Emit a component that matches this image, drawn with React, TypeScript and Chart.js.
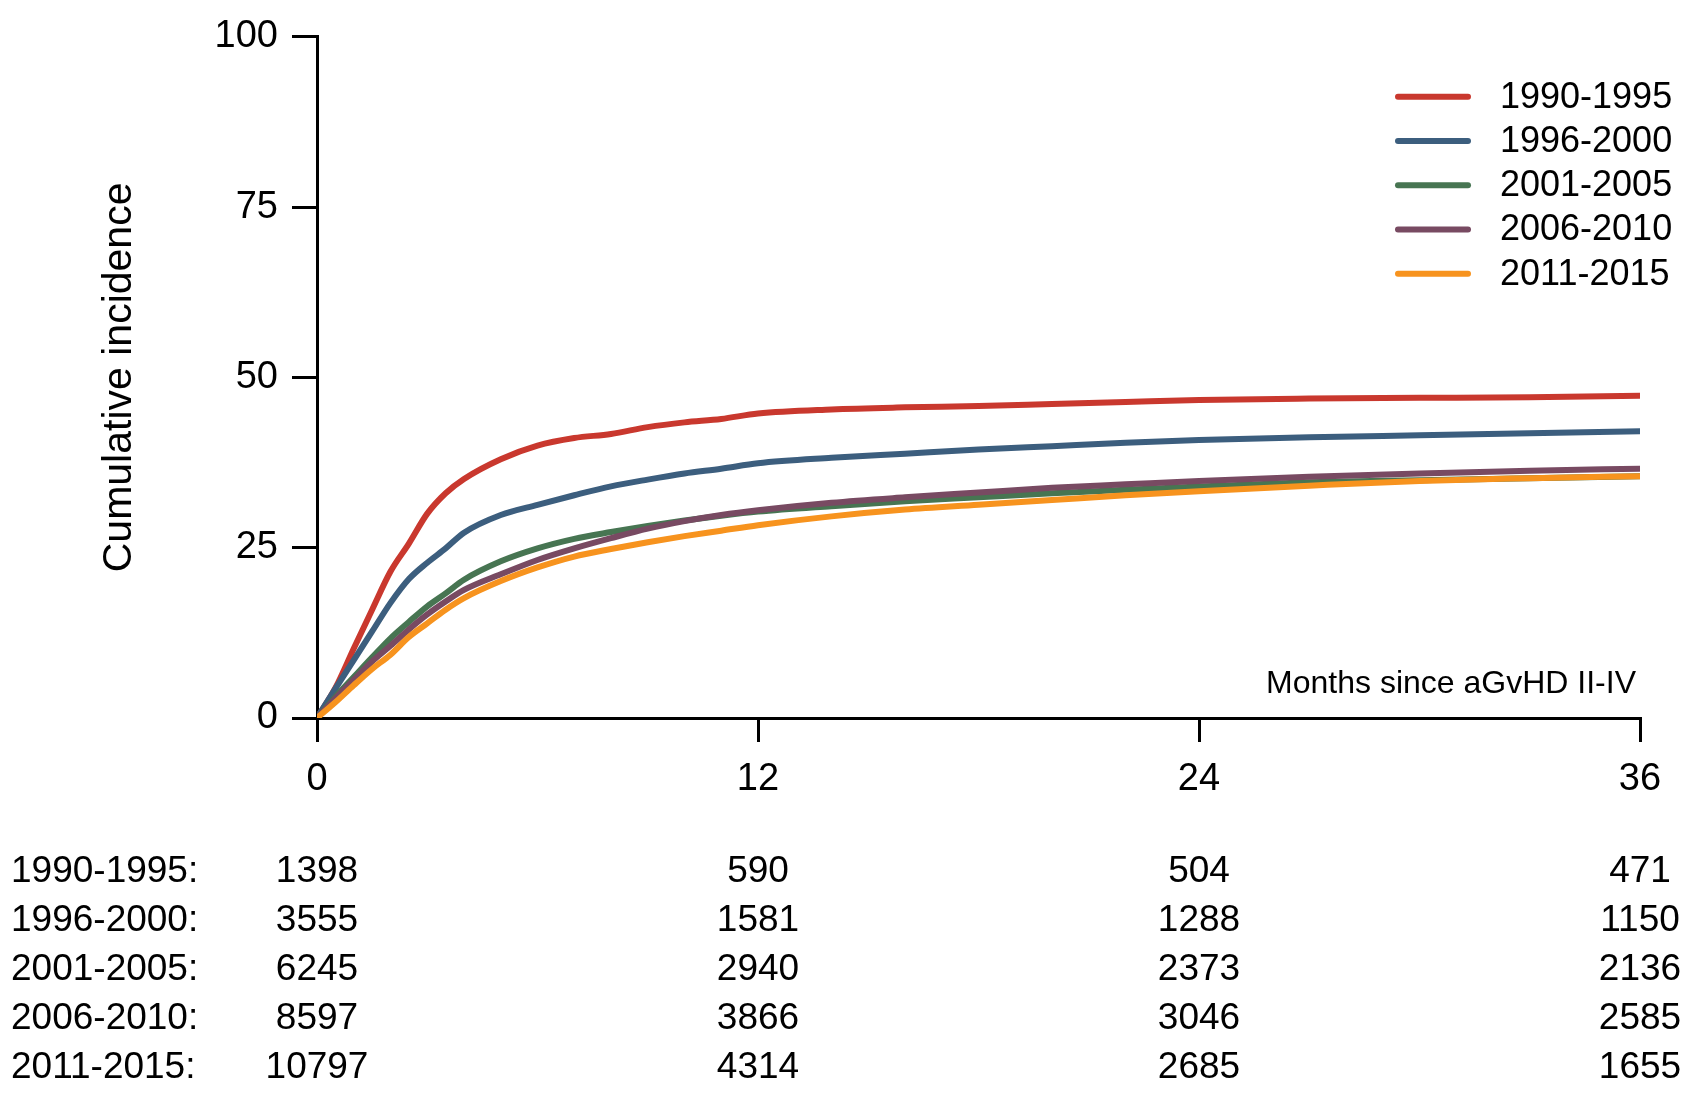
import React, { useEffect, useRef } from "react";
import { Chart, registerables } from "chart.js";

Chart.register(...registerables);

// ---- data ----
const months = [0, 0.5, 1, 1.5, 2, 2.5, 3, 3.5, 4, 5, 6, 7, 8, 9, 10, 11, 12, 14, 16, 18, 20, 22, 24, 27, 30, 33, 36];

const seriesNames = ["1990-1995", "1996-2000", "2001-2005", "2006-2010", "2011-2015"];
const seriesColors = ["#C9382E", "#3C5E7E", "#477552", "#784A62", "#F7931E"];

const inc1990 = [0, 4.4, 10.2, 15.9, 21.5, 25.6, 30.0, 33.0, 35.1, 38.0, 40.0, 41.1, 41.7, 42.7, 43.4, 43.9, 44.7, 45.3, 45.6, 45.8, 46.1, 46.4, 46.7, 46.9, 47.0, 47.1, 47.3];
const inc1996 = [0, 4.3, 8.5, 12.7, 16.9, 20.4, 22.8, 24.9, 27.2, 29.8, 31.3, 32.7, 34.0, 35.0, 35.9, 36.6, 37.4, 38.2, 38.8, 39.4, 39.9, 40.4, 40.8, 41.2, 41.5, 41.8, 42.1];
const inc2001 = [0, 3.1, 6.0, 8.9, 11.7, 14.1, 16.4, 18.3, 20.3, 23.0, 24.9, 26.3, 27.3, 28.2, 29.0, 29.7, 30.3, 31.1, 31.8, 32.4, 33.0, 33.5, 34.0, 34.6, 34.9, 35.2, 35.5];
const inc2006 = [0, 2.9, 5.6, 8.3, 10.6, 13.0, 15.2, 17.1, 18.8, 21.1, 23.2, 24.9, 26.4, 27.8, 28.9, 29.8, 30.5, 31.6, 32.4, 33.1, 33.8, 34.3, 34.8, 35.4, 35.9, 36.3, 36.6];
const inc2011 = [0, 2.3, 4.8, 7.2, 9.3, 11.9, 13.9, 15.9, 17.6, 20.1, 22.1, 23.7, 24.8, 25.8, 26.7, 27.5, 28.3, 29.6, 30.6, 31.3, 32.0, 32.7, 33.3, 34.1, 34.8, 35.2, 35.5];
const seriesValues = [inc1990, inc1996, inc2001, inc2006, inc2011];

const xTicks = [0, 12, 24, 36];
const yTicks = [0, 25, 50, 75, 100];

const riskTimes = [0, 12, 24, 36];
const risk1990 = [1398, 590, 504, 471];
const risk1996 = [3555, 1581, 1288, 1150];
const risk2001 = [6245, 2940, 2373, 2136];
const risk2006 = [8597, 3866, 3046, 2585];
const risk2011 = [10797, 4314, 2685, 1655];
const riskRows = [risk1990, risk1996, risk2001, risk2006, risk2011];

const yTitle = "Cumulative incidence";
const xNote = "Months since aGvHD II-IV";

const FONT = '"Liberation Sans", Arial, sans-serif';

export default function App() {
  const ref = useRef<HTMLCanvasElement | null>(null);

  useEffect(() => {
    document.body.style.margin = "0";
    const canvas = ref.current;
    if (!canvas) return;

    const datasets = seriesNames.map((name, i) => ({
      label: name,
      data: months.map((m, j) => ({ x: m, y: seriesValues[i][j] })),
      borderColor: seriesColors[i],
      backgroundColor: seriesColors[i],
      borderWidth: 6,
      pointRadius: 0,
      cubicInterpolationMode: "monotone" as const,
      fill: false,
      borderCapStyle: "round" as const,
      borderJoinStyle: "round" as const,
      order: seriesNames.length - 1 - i,
    }));

    const overlay = {
      id: "overlay",
      afterDraw(chart: any) {
        const ctx = chart.ctx as CanvasRenderingContext2D;
        const area = chart.chartArea;
        const xs = chart.scales.x;
        ctx.save();
        ctx.fillStyle = "#000";

        // axis note
        ctx.font = `32px ${FONT}`;
        ctx.textAlign = "right";
        ctx.textBaseline = "alphabetic";
        ctx.fillText(xNote, area.right - 4, area.bottom - 25);

        // legend
        const legLineStart = area.right - 242;
        const legLineEnd = area.right - 172;
        const legText = area.right - 140;
        seriesNames.forEach((name, i) => {
          const y = area.top + 60 + i * 44.25;
          ctx.strokeStyle = seriesColors[i];
          ctx.lineWidth = 6;
          ctx.lineCap = "round";
          ctx.beginPath();
          ctx.moveTo(legLineStart, y);
          ctx.lineTo(legLineEnd, y);
          ctx.stroke();
          ctx.fillStyle = "#000";
          ctx.font = `36px ${FONT}`;
          ctx.textAlign = "left";
          ctx.textBaseline = "middle";
          ctx.fillText(name, legText, y + 1);
        });

        // numbers at risk
        ctx.font = `37px ${FONT}`;
        ctx.textBaseline = "middle";
        riskRows.forEach((row, i) => {
          const y = 872 + i * 49;
          ctx.textAlign = "left";
          ctx.fillText(seriesNames[i] + ":", 11, y);
          ctx.textAlign = "center";
          row.forEach((v, j) => {
            ctx.fillText(String(v), xs.getPixelForValue(riskTimes[j]), y);
          });
        });
        ctx.restore();
      },
    };

    const chart = new Chart(canvas, {
      type: "line",
      data: { datasets },
      options: {
        responsive: false,
        animation: false,
        layout: { padding: { left: 0, right: 58, top: 32, bottom: 0 } },
        plugins: { legend: { display: false }, tooltip: { enabled: false } },
        scales: {
          x: {
            type: "linear",
            min: 0,
            max: 36,
            afterBuildTicks: (s: any) => {
              s.ticks = xTicks.map((v) => ({ value: v }));
            },
            ticks: { color: "#000", font: { size: 38, family: FONT }, padding: 15, maxRotation: 0, autoSkip: false },
            grid: { drawOnChartArea: false, drawTicks: true, tickLength: 24, color: "#000", lineWidth: 3 },
            border: { display: true, color: "#000", width: 3 },
            afterFit: (s: any) => {
              s.height = 386;
            },
          },
          y: {
            type: "linear",
            min: 0,
            max: 100,
            afterBuildTicks: (s: any) => {
              s.ticks = yTicks.map((v) => ({ value: v }));
            },
            ticks: { color: "#000", font: { size: 38, family: FONT }, padding: 14 },
            grid: { drawOnChartArea: false, drawTicks: true, tickLength: 25, color: "#000", lineWidth: 3 },
            border: { display: true, color: "#000", width: 3 },
            title: {
              display: true,
              text: yTitle,
              color: "#000",
              font: { size: 41, family: FONT },
              padding: { top: 95, bottom: 0 },
            },
            afterFit: (s: any) => {
              s.width = 317;
            },
          },
        },
      },
      plugins: [overlay],
    });

    return () => chart.destroy();
  }, []);

  return (
    <div style={{ width: 1698, height: 1104, background: "#fff" }}>
      <canvas ref={ref} width={1698} height={1104} style={{ display: "block" }} />
    </div>
  );
}
